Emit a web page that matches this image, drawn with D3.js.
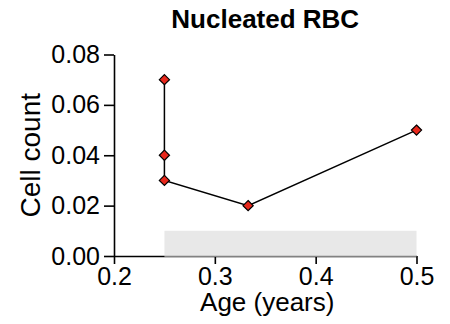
<!DOCTYPE html>
<html>
<head>
<meta charset="utf-8">
<script src="https://cdn.jsdelivr.net/npm/d3@7"></script>
<style>
  html, body { margin: 0; padding: 0; background: #fff; }
  svg { display: block; font-family: "Liberation Sans", Arial, Helvetica, sans-serif; }
</style>
</head>
<body>
<div id="chart"></div>
<script>
// data
const ageYears = [0.25, 0.25, 0.25, 0.333, 0.5];
const cellCount = [0.07, 0.04, 0.03, 0.02, 0.05];

// normal range band
const refAge = [0.25, 0.5];
const refCount = [0, 0.01];

const xTicks = [0.2, 0.3, 0.4, 0.5];
const yTicks = [0, 0.02, 0.04, 0.06, 0.08];

const W = 450, H = 324;
const margin = { top: 54.5, right: 33.5, bottom: 68, left: 114 };

const svg = d3.select('#chart').append('svg')
  .attr('width', W)
  .attr('height', H);

const x = d3.scaleLinear()
  .domain([0.2, 0.5])
  .range([margin.left, W - margin.right]);

const y = d3.scaleLinear()
  .domain([0, 0.08])
  .range([H - margin.bottom, margin.top]);

// axes
const xAxis = svg.append('g')
  .attr('transform', `translate(0,${y(0)})`)
  .call(d3.axisBottom(x).tickValues(xTicks).tickFormat(d3.format('.1f')).tickSize(8).tickPadding(3).tickSizeOuter(0));

const yAxis = svg.append('g')
  .attr('transform', `translate(${x(0.2)},0)`)
  .call(d3.axisLeft(y).tickValues(yTicks).tickFormat(d3.format('.2f')).tickSize(10).tickPadding(4).tickSizeOuter(0));

[xAxis, yAxis].forEach(g => {
  g.selectAll('path, line').attr('stroke', '#000').attr('stroke-width', 1.6);
  g.selectAll('text').attr('fill', '#000').style('font-size', '25px');
});

// grey reference band, drawn over the axis like the original
svg.append('rect')
  .attr('x', x(refAge[0]))
  .attr('y', y(refCount[1]))
  .attr('width', x(refAge[1]) - x(refAge[0]))
  .attr('height', y(refCount[0]) - y(refCount[1]) + 1)
  .attr('fill', '#d9d9d9')
  .attr('fill-opacity', 0.6);

// line
const pts = ageYears.map((a, i) => [a, cellCount[i]]);
const line = d3.line().x(d => x(d[0])).y(d => y(d[1]));

svg.append('path')
  .datum(pts)
  .attr('d', line)
  .attr('fill', 'none')
  .attr('stroke', '#000')
  .attr('stroke-width', 1.5);

// diamond markers
svg.append('g')
  .selectAll('path')
  .data(pts)
  .enter()
  .append('path')
  .attr('transform', d => `translate(${x(d[0])},${y(d[1])})`)
  .attr('d', d3.symbol().type(d3.symbolDiamond2).size(66))
  .attr('fill', '#e8281c')
  .attr('stroke', '#000')
  .attr('stroke-width', 1.2);

// titles
svg.append('text')
  .attr('x', (x(0.2) + x(0.5)) / 2)
  .attr('y', 28)
  .attr('text-anchor', 'middle')
  .style('font-size', '26px')
  .style('font-weight', 'bold')
  .text('Nucleated RBC');

svg.append('text')
  .attr('x', (x(0.2) + x(0.5)) / 2 + 2)
  .attr('y', 311)
  .attr('text-anchor', 'middle')
  .style('font-size', '26px')
  .text('Age (years)');

svg.append('text')
  .attr('transform', `translate(40,${(y(0) + y(0.08)) / 2}) rotate(-90)`)
  .attr('text-anchor', 'middle')
  .style('font-size', '28px')
  .text('Cell count');
</script>
</body>
</html>
